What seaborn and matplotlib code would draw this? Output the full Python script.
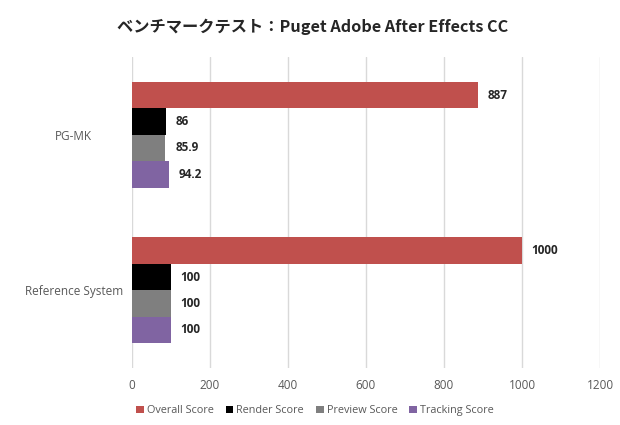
import matplotlib
matplotlib.use("Agg")
import matplotlib.pyplot as plt
import pandas as pd
import seaborn as sns

# data
systems = ["PG-MK", "Reference System"]
series = ["Overall Score", "Render Score", "Preview Score", "Tracking Score"]
overall = [887, 1000]
render = [86, 100]
preview = [85.9, 100]
tracking = [94.2, 100]
colors = ["#C0504D", "#000000", "#7F7F7F", "#8064A2"]

df = pd.DataFrame({"system": systems, "Overall Score": overall, "Render Score": render,
                   "Preview Score": preview, "Tracking Score": tracking})
df = df.melt(id_vars="system", var_name="series", value_name="score")

sns.set_style("white")
plt.rcParams['font.family'] = ['Open Sans', 'Noto Sans CJK JP', 'DejaVu Sans']

fig = plt.figure(figsize=(6.2, 4.25), dpi=100)
ax = fig.add_axes([0.2129, 0.134, 0.7548, 0.732])

sns.barplot(data=df, y="system", x="score", hue="series", order=systems, hue_order=series,
            palette=colors, orient="h", width=0.68, saturation=1, linewidth=0, ax=ax)

for cont in ax.containers:
    ax.bar_label(cont, fmt="%g", padding=7, fontsize=8.5, fontweight="bold", color="#262626")

ax.set_xlim(0, 1200)
ax.set_ylim(1.5, -0.5)
ax.set_xticks(range(0, 1201, 200))
ax.xaxis.grid(True, color="#D9D9D9", linewidth=1)
ax.set_axisbelow(True)
for s in ax.spines.values():
    s.set_visible(False)
ax.set_xlabel("")
ax.set_ylabel("")
ax.tick_params(axis="x", length=0, pad=8, labelsize=8.5, labelcolor="#595959")
ax.tick_params(axis="y", length=0, pad=42, labelsize=8.5, labelcolor="#595959")
for lbl in ax.get_yticklabels():
    lbl.set_ha("center")

handles, labels = ax.get_legend_handles_labels()
ax.legend_.remove()
fig.legend(handles, labels, ncol=4, loc="center", bbox_to_anchor=(0.508, 0.033), frameon=False,
           fontsize=7.8, handlelength=0.7, handleheight=0.7, handletextpad=0.3, columnspacing=1.1,
           labelcolor="#595959")

fig.suptitle("ベンチマークテスト：Puget Adobe After Effects CC", x=0.505, y=0.955,
             fontsize=11.7, fontweight="bold", family=["Noto Sans CJK JP", "DejaVu Sans"])

fig.savefig("out.png", dpi=100)
